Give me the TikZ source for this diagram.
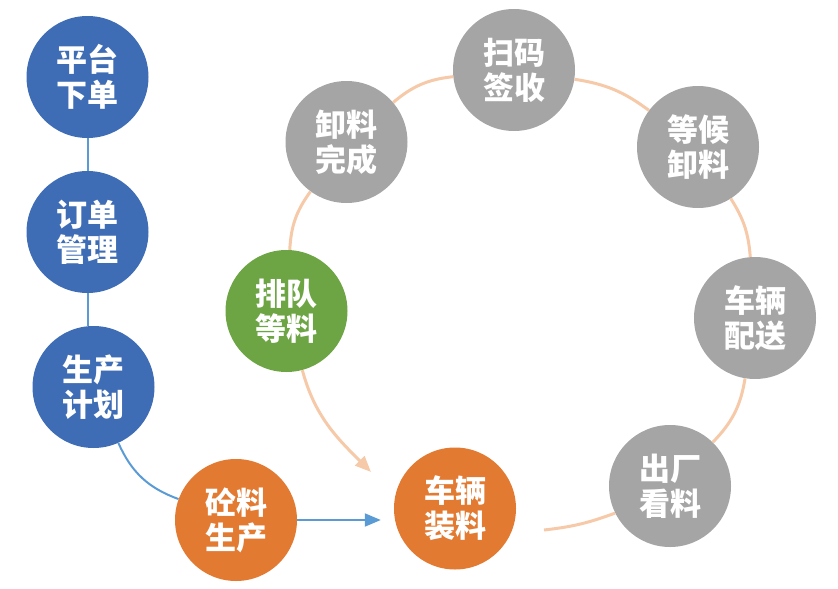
\documentclass[tikz,border=0pt]{standalone}
\usepackage{fontspec}
\newfontfamily\cjk{Noto Sans CJK SC}
\usepackage{tikz}
\usetikzlibrary{shapes.geometric, arrows.meta}
\definecolor{planblue}{HTML}{3E6DB5}
\definecolor{makeorange}{HTML}{E27A32}
\definecolor{waitgreen}{HTML}{6DA544}
\definecolor{tripgrey}{HTML}{A5A5A5}
\definecolor{linkblue}{HTML}{5B9BD5}
\definecolor{ringpeach}{HTML}{F6C9A8}
\tikzstyle{stage} = [circle, minimum size=122pt, inner sep=0pt, align=center, text=white, font=\cjk\bfseries\fontsize{31}{35}\selectfont]
\tikzstyle{plan} = [stage, fill=planblue]
\tikzstyle{make} = [stage, fill=makeorange]
\tikzstyle{wait} = [stage, fill=waitgreen]
\tikzstyle{trip} = [stage, fill=tripgrey]
\tikzstyle{link} = [line width=2pt, draw=linkblue]
\tikzstyle{ring} = [line width=3pt, draw=ringpeach]
\begin{document}
\begin{tikzpicture}[x=1pt, y=-1pt, node distance=155pt]
    \useasboundingbox (0,0) rectangle (838,589);
    \node (pt) [plan] at (87.5,77) {平台\\下单};
    \node (dd) [plan, below of=pt] {订单\\管理};
    \node (sc) [plan, below of=dd, xshift=6pt] {生产\\计划};
    \node (zl) [make] at (236,520) {砼料\\生产};
    \node (zx) [make] at (455,508.5) {车辆\\装料};
    \node (pd) [wait] at (286.5,311) {排队\\等料};
    \node (xl) [trip] at (346.5,142) {卸料\\完成};
    \node (sm) [trip] at (514,70) {扫码\\签收};
    \node (dh) [trip] at (698,147) {等候\\卸料};
    \node (ps) [trip] at (755,318) {车辆\\配送};
    \node (ck) [trip] at (670,486) {出厂\\看料};
    \coordinate (zxout) at (544,530);
    \coordinate (pdtip) at (371,472);
    \draw [link] (pt) -- (dd);
    \draw [link] (dd) -- (dd |- sc.north);
    \draw [link] (sc) to[bend right=23] (zl);
    \draw [link, -{Triangle[length=16pt, width=13pt]}, shorten >=13pt] (zl.east) -- (zl.east -| zx.west);
    \draw [ring] (zxout) to[bend right=7] (ck);
    \draw [ring] (ck) to[bend right=17.5] (ps);
    \draw [ring] (ps) to[bend right=14] (dh);
    \draw [ring] (dh) to[bend right=14] (sm);
    \draw [ring] (sm) to[bend right=17] (xl);
    \draw [ring] (xl) to[bend right=16.5] (pd);
    \draw [ring, -{Triangle[length=16pt, width=13pt]}] (pd) to[out=-75, in=135] (pdtip);
\end{tikzpicture}
\end{document}
